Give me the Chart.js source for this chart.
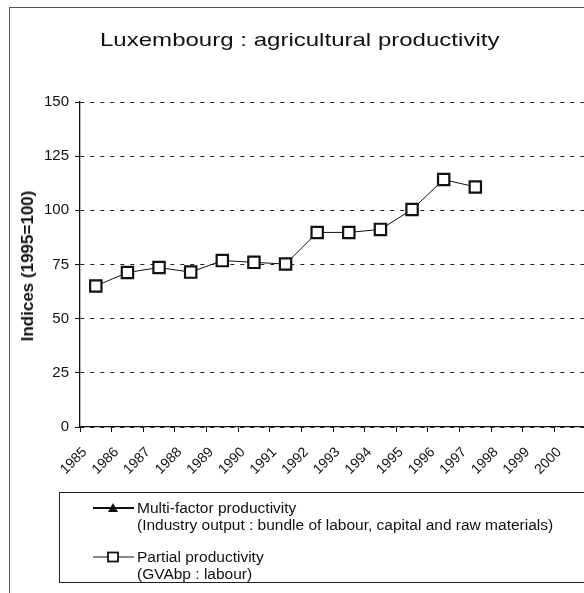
<!DOCTYPE html>
<html>
<head>
<meta charset="utf-8">
<script src="https://cdn.jsdelivr.net/npm/chart.js@4/dist/chart.umd.min.js"></script>
<style>
  html, body { margin: 0; padding: 0; width: 584px; height: 593px; overflow: hidden; background: #fff; font-family: "Liberation Sans", Arial, sans-serif; color: #111; }
  #frame { position: absolute; left: 9px; top: 7px; width: 600px; height: 600px; border-left: 1px solid #555; border-top: 1px solid #555; }
  #wrap { position: absolute; left: 0; top: 0; width: 600px; height: 593px; }
  #title { position: absolute; left: 100px; top: 28.5px; font-size: 19px; line-height: 22px; white-space: nowrap; transform-origin: 0 0; transform: scaleX(1.265); }
  #ytitle { position: absolute; left: 28px; top: 266px; transform: translate(-50%, -50%) rotate(-90deg); white-space: nowrap; font-weight: bold; font-size: 17px; }
  #legend { position: absolute; left: 59px; top: 492px; width: 560px; height: 89px; border: 1px solid #222; font-size: 15.5px; line-height: 17px; }
  .entry { position: absolute; left: 33px; }
  .entry svg { position: absolute; left: 0; top: 0; }
  .entry .txt { position: absolute; left: 44px; top: -9px; white-space: nowrap; }
</style>
</head>
<body>
<div id="frame"></div>
<div id="wrap"><canvas id="c" width="600" height="593"></canvas></div>
<div id="title">Luxembourg : agricultural productivity</div>
<div id="ytitle">Indices (1995=100)</div>
<div id="legend">
  <div class="entry" style="top:15px">
    <svg width="42" height="12" style="top:-6px" viewBox="0 0 42 12"><line x1="0" y1="6" x2="41" y2="6" stroke="#111" stroke-width="2"/><polygon points="20,1 25,10 15,10" fill="#111"/></svg>
    <div class="txt">Multi-factor productivity<br>(Industry output : bundle of labour, capital and raw materials)</div>
  </div>
  <div class="entry" style="top:64px">
    <svg width="42" height="14" style="top:-7px" viewBox="0 0 42 14"><line x1="0" y1="7" x2="41" y2="7" stroke="#111" stroke-width="1"/><rect x="15" y="2.5" width="10" height="9" fill="#fff" stroke="#111" stroke-width="1.8"/></svg>
    <div class="txt">Partial productivity<br>(GVAbp : labour)</div>
  </div>
</div>
<script>
const years = ['1985','1986','1987','1988','1989','1990','1991','1992','1993','1994','1995','1996','1997','1998','1999','2000'];
const multiFactor = [null,null,null,null,null,null,null,null,null,null,null,null,null,null,null,null];
const partial = [65.1, 71.3, 73.6, 71.5, 76.8, 76.0, 75.2, 89.8, 89.8, 91.2, 100.4, 114.2, 110.8, null, null, null];
const yTicks = [0, 25, 50, 75, 100, 125, 150];

const ctx = document.getElementById('c');
new Chart(ctx, {
  type: 'line',
  data: {
    labels: years,
    datasets: [
      { label: 'Multi-factor productivity', data: multiFactor, borderColor: '#111', backgroundColor: '#111', borderWidth: 1, pointStyle: 'triangle', pointRadius: 6 },
      { label: 'Partial productivity', data: partial, borderColor: '#111', backgroundColor: '#fff', borderWidth: 1, pointStyle: 'rect', pointRadius: 8, pointBorderWidth: 2.2, pointBackgroundColor: '#fff', pointBorderColor: '#111', tension: 0 }
    ]
  },
  options: {
    responsive: false,
    animation: false,
    devicePixelRatio: 1,
    layout: { padding: { left: 0, top: 102, right: 14, bottom: 0 } },
    plugins: { legend: { display: false }, title: { display: false }, tooltip: { enabled: false } },
    scales: {
      x: {
        type: 'category',
        offset: true,
        grid: { offset: true, drawOnChartArea: false, drawTicks: true, tickLength: 5, color: '#111' },
        border: { display: true, color: '#111', width: 1.3 },
        ticks: { autoSkip: false, minRotation: 45, maxRotation: 45, color: '#111', font: { family: 'Liberation Sans', size: 14 }, padding: 12, labelOffset: -11 },
        afterFit: (s) => { s.height = 166; }
      },
      y: {
        min: 0, max: 150,
        afterBuildTicks: (s) => { s.ticks = yTicks.map(v => ({ value: v })); },
        grid: { color: '#222', lineWidth: 1, drawTicks: true, tickLength: 5, tickColor: '#111', tickBorderDash: [] },
        border: { display: true, color: '#111', width: 1.3, dash: [4, 6] },
        ticks: { color: '#111', font: { family: 'Liberation Sans', size: 15 }, padding: 6 },
        afterFit: (s) => { s.width = 80; }
      }
    }
  }
});
</script>
</body>
</html>
